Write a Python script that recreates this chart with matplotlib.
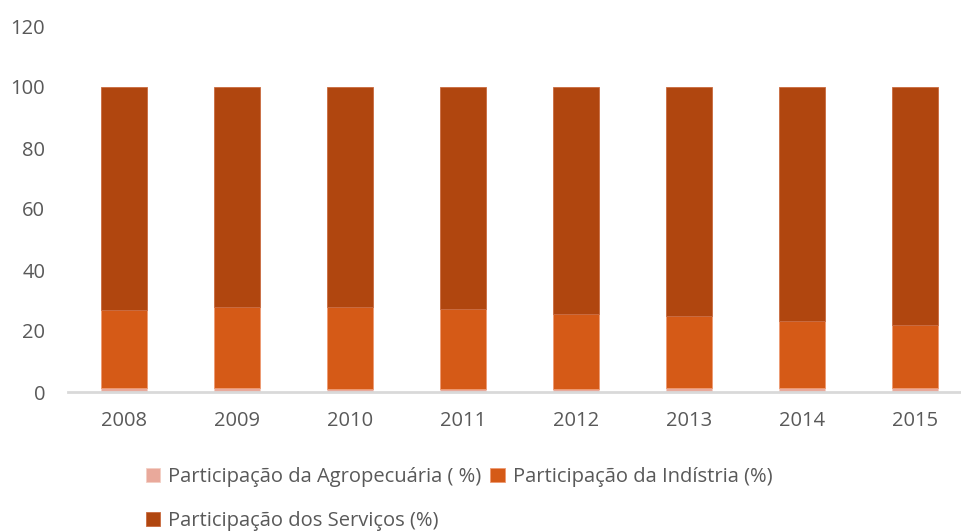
import matplotlib
matplotlib.use("Agg")
import matplotlib.pyplot as plt
import numpy as np

years = ["2008", "2009", "2010", "2011", "2012", "2013", "2014", "2015"]
agro = [1.45, 1.45, 0.9, 0.9, 0.9, 1.45, 1.45, 1.45]
industria = [25.3, 26.5, 27.1, 26.2, 24.6, 23.6, 21.9, 20.6]
servicos = [100 - a - i for a, i in zip(agro, industria)]

labels = ["Participação da Agropecuária ( %)", "Participação da Indístria (%)",
          "Participação dos Serviços (%)"]
colors = ["#E9A99B", "#D55A17", "#B0460F"]

plt.rcParams['font.family'] = ['Open Sans', 'DejaVu Sans']

fig = plt.figure(figsize=(9.61, 5.32), dpi=100)
W, H = 961, 532
ax = fig.add_axes([67.5 / W, (H - 392) / H, 904 / W, 366 / H])

x = np.arange(len(years))
bw = 0.4
b1 = ax.bar(x, agro, bw, color=colors[0], edgecolor="#F3CFC4", linewidth=0.6)
b2 = ax.bar(x, industria, bw, bottom=agro, color=colors[1], edgecolor="#EE9A72", linewidth=0.6)
bottom2 = [a + i for a, i in zip(agro, industria)]
b3 = ax.bar(x, servicos, bw, bottom=bottom2, color=colors[2], edgecolor="#C96A3F", linewidth=0.6)

ax.set_xlim(-0.5, 7.5)
ax.set_ylim(0, 120)
ax.set_yticks([0, 20, 40, 60, 80, 100, 120])
ax.set_xticks(x)
ax.set_xticklabels(years)
for s in ["top", "right", "left"]:
    ax.spines[s].set_visible(False)
ax.spines["bottom"].set_color("#D9D9D9")
ax.spines["bottom"].set_linewidth(2)
ax.tick_params(axis="both", length=0, labelsize=14.5, colors="#595959")
ax.tick_params(axis="x", pad=14)
ax.tick_params(axis="y", pad=16)

handles = [b1, b3, b2]
labs = [labels[0], labels[2], labels[1]]
leg = fig.legend(handles, labs, ncol=2, loc="upper left",
                 bbox_to_anchor=(146 / W, (H - 467) / H), frameon=False,
                 fontsize=14.5, labelcolor="#595959", handlelength=0.7, handleheight=0.7,
                 handletextpad=0.4, columnspacing=0.45, labelspacing=1.2,
                 borderaxespad=0, borderpad=0)

fig.savefig("out.png", dpi=100)
